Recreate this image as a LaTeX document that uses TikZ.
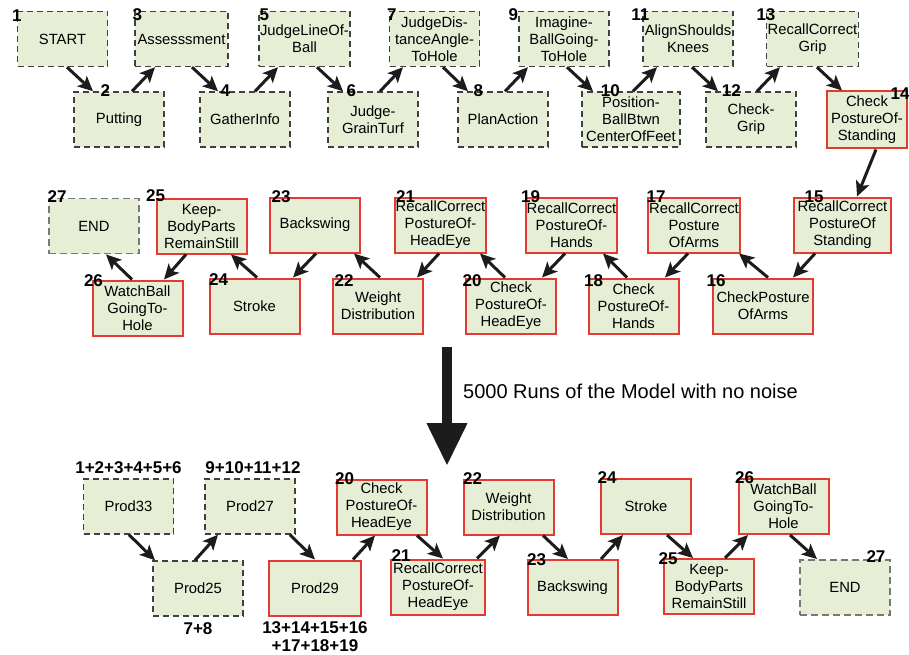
\documentclass[tikz,border=0pt]{standalone}
\usepackage{fontspec}
\setmainfont{Liberation Sans}
\usetikzlibrary{arrows.meta,positioning}
\definecolor{boxfill}{RGB}{230,238,214}
\definecolor{boxred}{RGB}{228,58,52}
\definecolor{dashgray}{RGB}{64,64,64}
\definecolor{endgray}{RGB}{120,120,120}
\definecolor{arrowblack}{RGB}{28,28,28}
\newcommand{\boxfont}{\fontsize{14.8}{17}\selectfont}
\newcommand{\numfont}{\fontsize{17}{18}\selectfont\bfseries}
\tikzset{
  box/.style={fill=boxfill, minimum width=90, minimum height=55, inner sep=1pt, align=center, font=\boxfont},
  dashbox/.style={box, draw=dashgray, line width=1.4pt, dash pattern=on 6pt off 4pt},
  redbox/.style={box, draw=boxred, line width=2pt},
  endbox/.style={box, draw=endgray, line width=1.9pt, dash pattern=on 7pt off 4pt},
  num/.style={font=\numfont, inner sep=0pt},
  arr/.style={draw=arrowblack, line width=3pt, -{Stealth[length=15pt,width=14pt,inset=3.5pt]}},
}
\begin{document}
\begin{tikzpicture}[x=1pt,y=-1pt]
  \useasboundingbox (0,0) rectangle (909,655);

  % first run, upper line
  \node[dashbox] (s1) at (62.5,39) {START};
  \node[dashbox, minimum width=93] (s3) at (181.5,39) {Assesssment};
  \node[dashbox] (s5) at (304.5,39) {JudgeLineOf-\\Ball};
  \node[dashbox] (s7) at (434.5,39) {JudgeDis-\\tanceAngle-\\ToHole};
  \node[dashbox] (s9) at (564,39) {Imagine-\\BallGoing-\\ToHole};
  \node[dashbox] (s11) at (688,39) {AlignShoulds\\Knees};
  \node[dashbox] (s13) at (812.5,39) {RecallCorrect\\Grip};
  % first run, lower line
  \node[dashbox] (s2) at (119,119.5) {Putting};
  \node[dashbox] (s4) at (245,119.5) {GatherInfo};
  \node[dashbox] (s6) at (373,119.5) {Judge-\\GrainTurf};
  \node[dashbox] (s8) at (503,119.5) {PlanAction};
  \node[dashbox, minimum width=98] (s10) at (631,119.5) {Position-\\BallBtwn\\CenterOfFeet};
  \node[dashbox] (s12) at (751,119.5) {Check-\\Grip};
  \node[redbox, minimum width=80, minimum height=57] (s14) at (867,120) {Check\\PostureOf-\\Standing};

  % second line of steps, right to left
  \node[redbox, minimum width=97] (s15) at (842.5,225) {RecallCorrect\\PostureOf\\Standing};
  \node[redbox] (s17) at (694,225) {RecallCorrect\\Posture\\OfArms};
  \node[redbox] (s19) at (571.5,225) {RecallCorrect\\PostureOf-\\Hands};
  \node[redbox] (s21) at (440.5,225) {RecallCorrect\\PostureOf-\\HeadEye};
  \node[redbox] (s23) at (315,225) {Backswing};
  \node[redbox] (s25) at (201.5,226) {Keep-\\BodyParts\\RemainStill};
  \node[endbox] (s27) at (94,226) {END};
  \node[redbox, minimum width=100] (s16) at (763,306) {CheckPosture\\OfArms};
  \node[redbox] (s18) at (633.5,306) {Check\\PostureOf-\\Hands};
  \node[redbox] (s20) at (511,306) {Check\\PostureOf-\\HeadEye};
  \node[redbox] (s22) at (378,306) {Weight\\Distribution};
  \node[redbox] (s24) at (254.5,306) {Stroke};
  \node[redbox] (s26) at (137.5,308) {WatchBall\\GoingTo-\\Hole};

  % step numbers
  \node[num] (n1) at ([yshift=-5]s1.north west) {1};
  \node[num] (n3) at ([xshift=3,yshift=-4]s3.north west) {3};
  \node[num] (n5) at ([xshift=6,yshift=-4]s5.north west) {5};
  \node[num] (n7) at ([xshift=3,yshift=-4]s7.north west) {7};
  \node[num] (n9) at ([xshift=-5,yshift=-4]s9.north west) {9};
  \node[num] (n11) at ([xshift=-2,yshift=-4]s11.north west) {11};
  \node[num] (n13) at ([yshift=-4]s13.north west) {13};
  \node[num] (n2) at ([xshift=32,yshift=1]s2.north west) {2};
  \node[num] (n4) at ([xshift=26,yshift=1]s4.north west) {4};
  \node[num] (n6) at ([xshift=24,yshift=1]s6.north west) {6};
  \node[num] (n8) at ([xshift=21,yshift=1]s8.north west) {8};
  \node[num] (n10) at ([xshift=29,yshift=1]s10.north west) {10};
  \node[num] (n12) at ([xshift=26,yshift=1]s12.north west) {12};
  \node[num] (n14) at ([xshift=-8,yshift=-3]s14.north east) {14};
  \node[num] (n15) at ([xshift=21]s15.north west) {15};
  \node[num] (n17) at ([xshift=9]s17.north west) {17};
  \node[num] (n19) at ([xshift=6]s19.north west) {19};
  \node[num] (n21) at ([xshift=12]s21.north west) {21};
  \node[num] (n23) at ([xshift=12]s23.north west) {23};
  \node[num] (n25) at ([yshift=2]s25.north west) {25};
  \node[num] (n27) at ([xshift=9,yshift=1]s27.north west) {27};
  \node[num] (n16) at ([xshift=4,yshift=-3]s16.north west) {16};
  \node[num] (n18) at ([xshift=6,yshift=-3]s18.north west) {18};
  \node[num] (n20) at ([xshift=7,yshift=-3]s20.north west) {20};
  \node[num] (n22) at ([xshift=12,yshift=-3]s22.north west) {22};
  \node[num] (n24) at ([xshift=10,yshift=-2]s24.north west) {24};
  \node[num] (n26) at ([xshift=2,yshift=-1]s26.north west) {26};

  % arrows of the first run
  \draw[arr] ([xshift=4.5]s1.south) -- ([xshift=-26]s2.north);
  \draw[arr] ([xshift=13]s2.north) -- ([xshift=-26.5]s3.south);
  \draw[arr] ([xshift=10.5]s3.south) -- ([xshift=-27]s4.north);
  \draw[arr] ([xshift=10]s4.north) -- ([xshift=-26.5]s5.south);
  \draw[arr] ([xshift=12.5]s5.south) -- ([xshift=-30]s6.north);
  \draw[arr] ([xshift=7]s6.north) -- ([xshift=-31.5]s7.south);
  \draw[arr] ([xshift=8.5]s7.south) -- ([xshift=-35]s8.north);
  \draw[arr] ([xshift=2]s8.north) -- ([xshift=-36]s9.south);
  \draw[arr] ([xshift=3]s9.south) -- ([xshift=-38]s10.north);
  \draw[arr] ([xshift=2]s10.north) -- ([xshift=-31]s11.south);
  \draw[arr] ([xshift=4]s11.south) -- ([xshift=-33]s12.north);
  \draw[arr] ([xshift=6]s12.north) -- ([xshift=-32.5]s13.south);
  \draw[arr] ([xshift=4.5]s13.south) -- ([xshift=-25]s14.north);
  \draw[arr] ([xshift=9]s14.south) -- ([xshift=14.5]s15.north);
  \draw[arr] ([xshift=-27.5]s15.south) -- ([xshift=30]s16.north);
  \draw[arr] ([xshift=5]s16.north) -- ([xshift=45]s17.south);
  \draw[arr] ([xshift=-6]s17.south) -- ([xshift=31.5]s18.north);
  \draw[arr] ([xshift=-6.5]s18.north) -- ([xshift=31.5]s19.south);
  \draw[arr] ([xshift=-6.5]s19.south) -- ([xshift=31]s20.north);
  \draw[arr] ([xshift=-6]s20.north) -- ([xshift=39.5]s21.south);
  \draw[arr] ([xshift=-1.5]s21.south) -- ([xshift=39]s22.north);
  \draw[arr] ([xshift=2]s22.north) -- ([xshift=39]s23.south);
  \draw[arr] ([xshift=1]s23.south) -- ([xshift=38.5]s24.north);
  \draw[arr] ([xshift=2.5]s24.north) -- ([xshift=29.5]s25.south);
  \draw[arr] ([xshift=-15.5]s25.south) -- ([xshift=26.5]s26.north);
  \draw[arr] ([xshift=-5.5]s26.north) -- ([xshift=12]s27.south);

  % the runs
  \coordinate (runtop) at (447,347);
  \coordinate (runbot) at (447,466);
  \draw[draw=arrowblack, line width=10pt, -{Triangle[length=43pt,width=38pt]}] (runtop) -- (runbot);
  \node[anchor=west, font=\fontsize{20}{22}\selectfont, inner sep=0pt] (runs) at (463,391) {5000 Runs of the Model with no noise};

  % second run, compiled productions
  \node[dashbox] (p33) at (128.5,506.5) {Prod33};
  \node[dashbox] (p27) at (250,506.5) {Prod27};
  \node[redbox] (b20) at (381.5,507) {Check\\PostureOf-\\HeadEye};
  \node[redbox] (b22) at (508.5,507) {Weight\\Distribution};
  \node[redbox] (b24) at (646,506.5) {Stroke};
  \node[redbox] (b26) at (783.5,506.5) {WatchBall\\GoingTo-\\Hole};
  \node[dashbox] (p25) at (198,588.5) {Prod25};
  \node[redbox, minimum width=92] (p29) at (315,588) {Prod29};
  \node[redbox, minimum width=94] (b21) at (438,587) {RecallCorrect\\PostureOf-\\HeadEye};
  \node[redbox] (b23) at (572.5,587.5) {Backswing};
  \node[redbox] (b25) at (709,586.5) {Keep-\\BodyParts\\RemainStill};
  \node[endbox] (b27) at (845,587.5) {END};

  \node[num, above=4pt of p33] (m33) {1+2+3+4+5+6};
  \node[num, above=4pt of p27, xshift=3] (m27) {9+10+11+12};
  \node[num, below=6pt of p25] (m25) {7+8};
  \node[num, below=5pt of p29, align=center, font=\fontsize{17}{18}\selectfont\bfseries] (m29) {13+14+15+16\\+17+18+19};
  \node[num] (c20) at ([xshift=9]b20.north west) {20};
  \node[num] (c21) at ([xshift=11,yshift=3]b21.north west) {21};
  \node[num] (c22) at ([xshift=10]b22.north west) {22};
  \node[num] (c23) at ([xshift=10,yshift=-1]b23.north west) {23};
  \node[num] (c24) at ([xshift=7]b24.north west) {24};
  \node[num] (c25) at ([xshift=5,yshift=-1]b25.north west) {25};
  \node[num] (c26) at ([xshift=7]b26.north west) {26};
  \node[num] (c27) at ([xshift=-15,yshift=2]b27.north east) {27};

  % arrows of the second run
  \draw[arr] ([xshift=0.5]p33.south) -- ([xshift=-43]p25.north);
  \draw[arr] ([xshift=-3]p25.north) -- ([xshift=-32]p27.south);
  \draw[arr] ([xshift=40]p27.south) -- (p29.north);
  \draw[arr] ([xshift=38]p29.north) -- ([xshift=-6.5]b20.south);
  \draw[arr] ([xshift=35.5]b20.south) -- ([xshift=5]b21.north);
  \draw[arr] ([xshift=39]b21.north) -- ([xshift=-8.5]b22.south);
  \draw[arr] ([xshift=34.5]b22.south) -- ([xshift=-4.5]b23.north);
  \draw[arr] ([xshift=28.5]b23.north) -- ([xshift=-23]b24.south);
  \draw[arr] ([xshift=21]b24.south) -- ([xshift=-16]b25.north);
  \draw[arr] ([xshift=16]b25.north) -- ([xshift=-35.5]b26.south);
  \draw[arr] ([xshift=6.5]b26.south) -- ([xshift=-28]b27.north);
\end{tikzpicture}
\end{document}
